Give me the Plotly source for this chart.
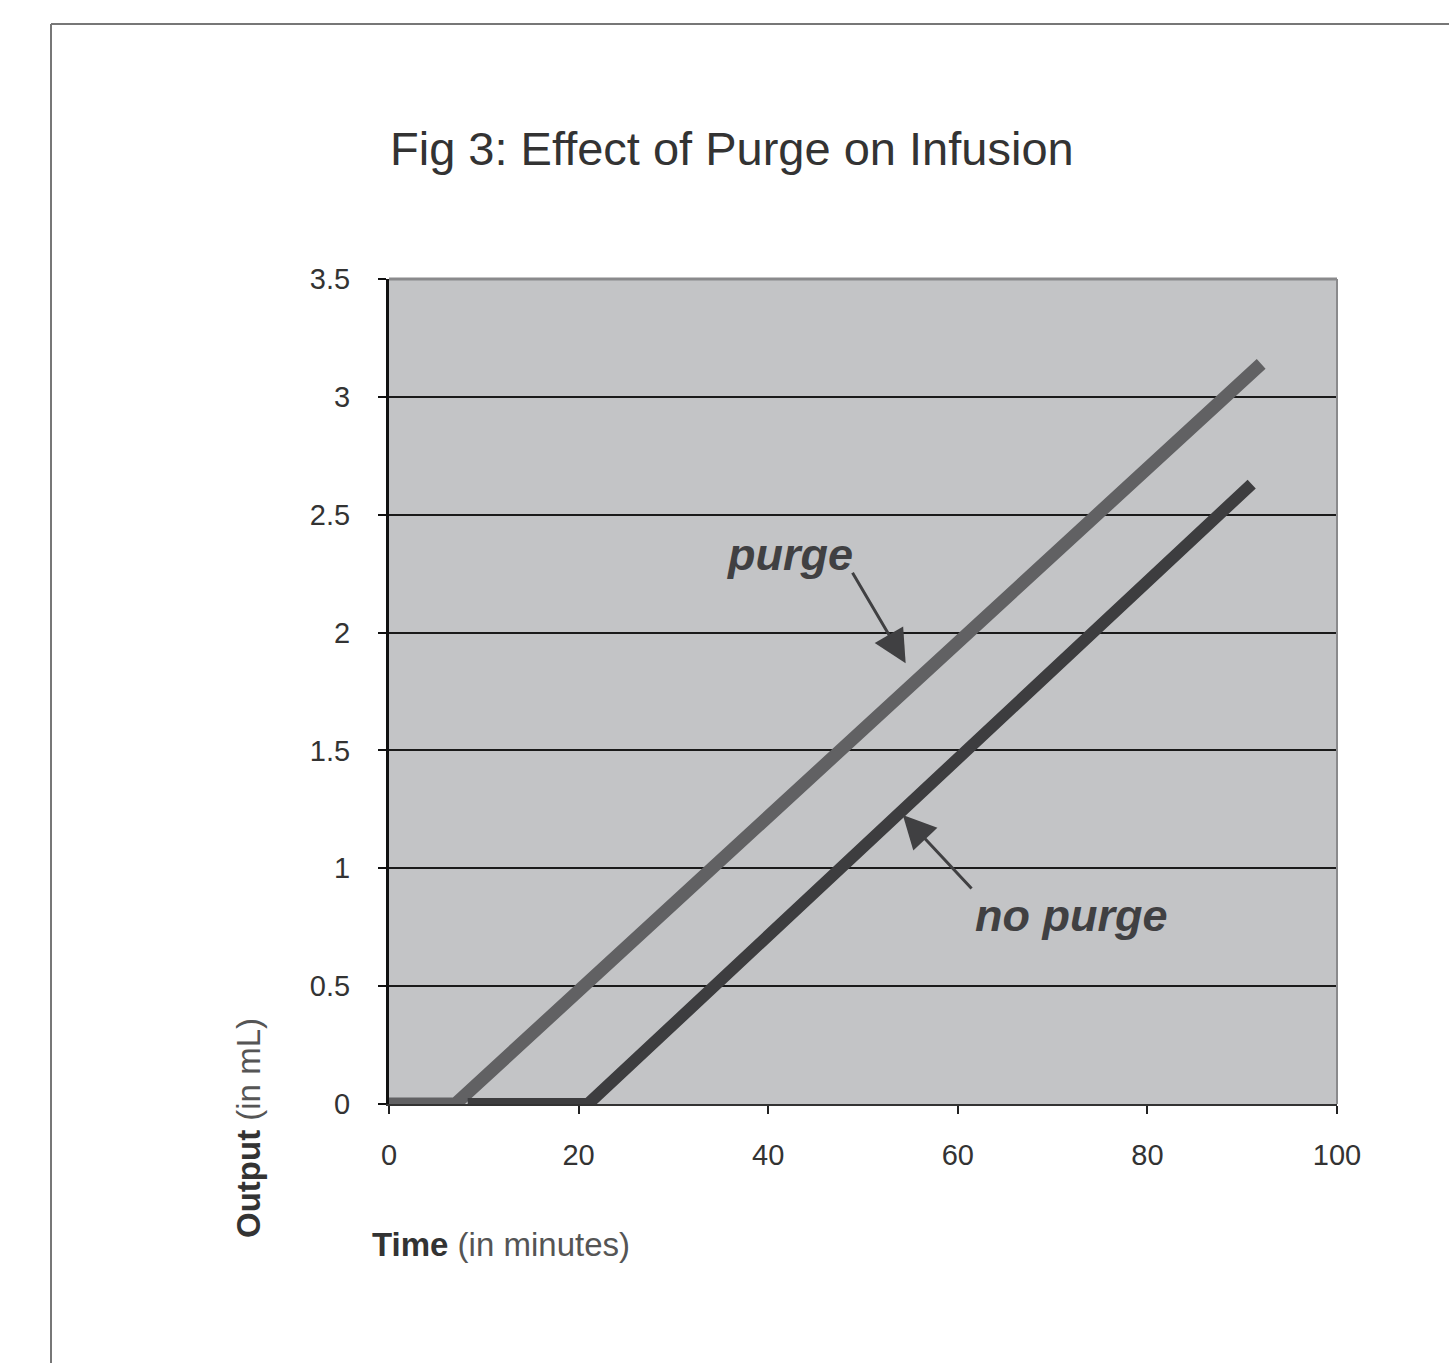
import plotly.graph_objects as go

# ---- data ----
purge_time = [0, 7, 92]
purge_output = [0, 0, 3.14]
no_purge_time = [8.3, 21, 91]
no_purge_output = [0, 0, 2.63]

x_ticks = [0, 20, 40, 60, 80, 100]
y_ticks = [0, 0.5, 1, 1.5, 2, 2.5, 3, 3.5]
y_tick_text = ["0", "0.5", "1", "1.5", "2", "2.5", "3", "3.5"]

title_text = "Fig 3: Effect of Purge on Infusion"
x_title = "<b>Time</b> <span style='color:#555'>(in minutes)</span>"
y_title = "<b>Output</b> <span style='color:#555'>(in mL)</span>"

# ---- layout geometry (pixels) ----
W, H = 1449, 1363
L, R, T, B = 389, 1337, 279, 1104
pw, ph = R - L, B - T

def px(xp):
    return (xp - L) / pw

def py(yp):
    return (B - yp) / ph

fig = go.Figure()
fig.add_trace(go.Scatter(x=purge_time, y=purge_output, mode="lines",
                         line=dict(color="#616163", width=13), name="purge",
                         showlegend=False))
fig.add_trace(go.Scatter(x=no_purge_time, y=no_purge_output, mode="lines",
                         line=dict(color="#3d3d3f", width=12), name="no purge",
                         showlegend=False))

tick_font = dict(family="Liberation Sans Narrow, Arial Narrow, Liberation Sans", size=29, color="#333")

fig.update_layout(
    width=W, height=H,
    margin=dict(l=L, r=W - R, t=T, b=H - B, pad=0),
    paper_bgcolor="white",
    plot_bgcolor="#c3c4c6",
    xaxis=dict(range=[0, 100], tickvals=x_ticks, showgrid=False, zeroline=False,
               showline=True, linecolor="#333", linewidth=2,
               ticks="outside", ticklen=8, tickwidth=2, tickcolor="#222",
               tickfont=tick_font, ticklabelstandoff=16),
    yaxis=dict(range=[0, 3.5], tickvals=y_ticks, ticktext=y_tick_text,
               showgrid=True, gridcolor="#1a1a1a", gridwidth=2, zeroline=False,
               showline=True, linecolor="#111", linewidth=3,
               ticks="outside", ticklen=8, tickwidth=2, tickcolor="#111",
               tickfont=tick_font, ticklabelstandoff=22),
    shapes=[
        # outer frame lines
        dict(type="line", xref="paper", yref="paper", x0=px(51), x1=px(W + 10), y0=py(24), y1=py(24),
             line=dict(color="#777", width=2)),
        dict(type="line", xref="paper", yref="paper", x0=px(51), x1=px(51), y0=py(24), y1=py(H + 10),
             line=dict(color="#777", width=2)),
        # plot border top & right
        dict(type="line", xref="paper", yref="paper", x0=0, x1=1, y0=1, y1=1,
             line=dict(color="#8a8a8c", width=3)),
        dict(type="line", xref="paper", yref="paper", x0=1, x1=1, y0=0, y1=1,
             line=dict(color="#8a8a8c", width=2)),
    ],
    annotations=[
        dict(text=title_text, xref="paper", yref="paper", x=px(388), y=py(148),
             xanchor="left", yanchor="middle", showarrow=False,
             font=dict(family="Liberation Sans, Arial", size=47, color="#333")),
        dict(text=x_title, xref="paper", yref="paper", x=px(370), y=py(1244),
             xanchor="left", yanchor="middle", showarrow=False,
             font=dict(family="Liberation Sans, Arial", size=33, color="#333")),
        dict(text=y_title, xref="paper", yref="paper", x=px(248), y=py(1240),
             xanchor="center", yanchor="bottom", textangle=-90, showarrow=False,
             font=dict(family="Liberation Sans, Arial", size=33, color="#333")),
        # purge label + arrow
        dict(text="<b><i>purge</i></b>", x=42.3, y=2.33, xref="x", yref="y",
             showarrow=False, font=dict(family="Liberation Sans, Arial", size=45, color="#404042")),
        dict(x=54.5, y=1.87, ax=48.8, ay=2.26, xref="x", yref="y", axref="x", ayref="y",
             text="", showarrow=True, arrowhead=2, arrowsize=2.2, arrowwidth=3, arrowcolor="#404042"),
        # no purge label + arrow
        dict(text="<b><i>no purge</i></b>", x=71.9, y=0.80, xref="x", yref="y",
             showarrow=False, font=dict(family="Liberation Sans, Arial", size=45, color="#404042")),
        dict(x=54.2, y=1.226, ax=61.6, ay=0.908, xref="x", yref="y", axref="x", ayref="y",
             text="", showarrow=True, arrowhead=2, arrowsize=2.2, arrowwidth=3, arrowcolor="#404042"),
    ],
)

fig.write_html("out.html", config={"displayModeBar": False},
               post_script="document.body.style.margin='0';document.body.style.overflow='hidden';")
